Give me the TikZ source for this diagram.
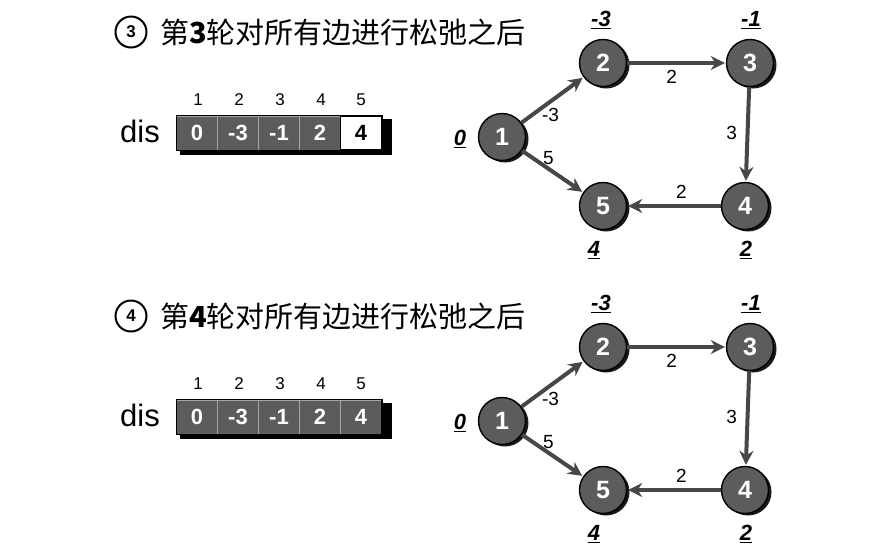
\documentclass[tikz,border=0pt]{standalone}
\usepackage{fontspec}
\setmainfont{Liberation Sans}
\newfontfamily\cjk{Noto Sans CJK SC}
\usetikzlibrary{arrows.meta,shadows}
\tikzset{
  gnode/.style={circle,draw=black,line width=1.4pt,fill=black!64,text=white,
    font=\fontsize{25}{25}\selectfont\bfseries,minimum size=47pt,inner sep=0pt,
    drop shadow={shadow xshift=3pt,shadow yshift=-2pt,fill=black,opacity=0.9}},
  edge/.style={line width=4pt,draw=black!72,-{Stealth[length=14pt,width=14pt]},shorten >=1pt},
  elabel/.style={font=\fontsize{19}{19}\selectfont,text=black,inner sep=0pt},
  dlabel/.style={font=\fontsize{22}{22}\selectfont\bfseries\itshape,inner sep=0pt},
  cell/.style={rectangle,draw=black!35,line width=0.8pt,fill=black!64,text=white,
    font=\fontsize{22}{22}\selectfont\bfseries,minimum width=41pt,minimum height=34pt,inner sep=0pt},
  wcell/.style={cell,fill=white,text=black,draw=black,line width=1.2pt},
  idx/.style={font=\fontsize{17}{17}\selectfont,inner sep=0pt},
  circnum/.style={circle,draw=black,line width=2pt,minimum size=31pt,inner sep=0pt,
    font=\fontsize{17}{17}\selectfont\bfseries},
  title/.style={anchor=west,inner sep=0pt,font=\fontsize{29}{29}\selectfont\cjk},
}
\begin{document}
\begin{tikzpicture}[x=1pt,y=-1pt]
\useasboundingbox (0,0) rectangle (890,550);
\foreach \oy/\k/\lastw in {0/3/1,284/4/0}{
  \begin{scope}[yshift=-\oy pt]
    % title
    \node[circnum] (cn\k) at (131,32) {\k};
    \node[title] (t\k) at (160,32) {第{\bfseries\k}轮对所有边进行松弛之后};
    % dis array
    \node[font=\fontsize{31}{31}\selectfont,inner sep=0pt] (dis\k) at (140,131) {dis};
    \fill[black] (180,119) rectangle (392,155);
    \node[cell] (c\k1) at (197,133) {0};
    \node[cell] (c\k2) at (238,133) {-3};
    \node[cell] (c\k3) at (279,133) {-1};
    \node[cell] (c\k4) at (320,133) {2};
    \ifnum\lastw=1
      \node[wcell] (c\k5) at (361,133) {4};
    \else
      \node[cell] (c\k5) at (361,133) {4};
    \fi
    \draw[black,line width=1.2pt] (c\k1.north west) rectangle (c\k5.south east);
    \foreach \i/\x in {1/198,2/239,3/280,4/321,5/361}
      \node[idx] (i\k\i) at (\x,100) {\i};
    % graph
    \node[gnode] (g\k1) at (502,137) {1};
    \node[gnode] (g\k2) at (603,63) {2};
    \node[gnode] (g\k3) at (750,63) {3};
    \node[gnode] (g\k4) at (745,206) {4};
    \node[gnode] (g\k5) at (603,206) {5};
    \draw[edge] (g\k1) -- node[elabel,pos=0.5,xshift=-2pt,yshift=-15pt] {-3} (g\k2);
    \draw[edge] (g\k1) -- node[elabel,pos=0.5,xshift=-4pt,yshift=13pt] {5} (g\k5);
    \draw[edge] (g\k2) -- node[elabel,pos=0.45,yshift=-14pt] {2} (g\k3);
    \draw[edge] (g\k3) -- node[elabel,pos=0.48,xshift=-16pt] {3} (g\k4);
    \draw[edge] (g\k4) -- node[elabel,pos=0.42,yshift=14pt] {2} (g\k5);
    \node[dlabel] (l\k1) at (460,139) {\underline{0}};
    \node[dlabel] (l\k2) at (601,20) {\underline{-3}};
    \node[dlabel] (l\k3) at (751,20) {\underline{-1}};
    \node[dlabel] (l\k4) at (594,250) {\underline{4}};
    \node[dlabel] (l\k5) at (746,250) {\underline{2}};
  \end{scope}
}
\end{tikzpicture}
\end{document}
